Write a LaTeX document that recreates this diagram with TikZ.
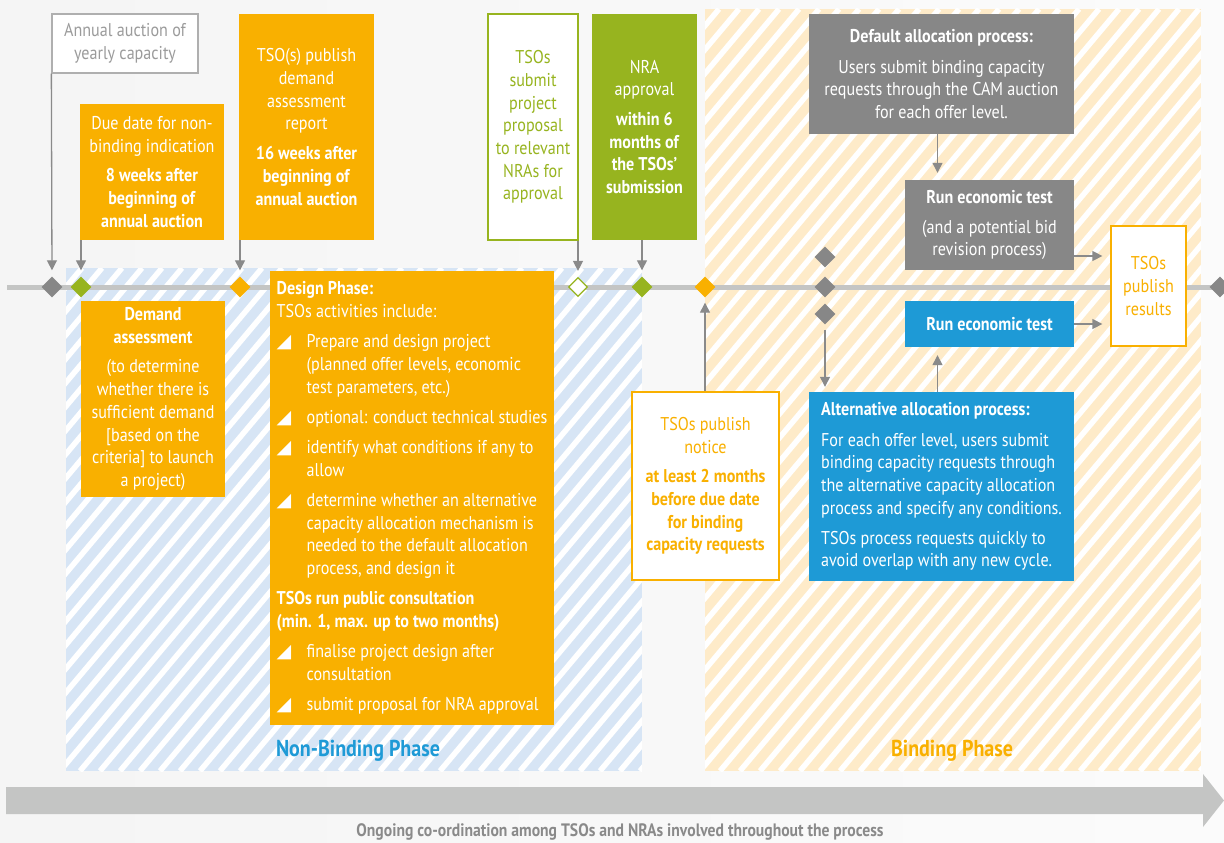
\documentclass[tikz,border=0pt]{standalone}
\usepackage{fontspec}
\setmainfont{PT Sans}[FakeStretch=0.87]
\newfontfamily\symfont{DejaVu Sans}
\usetikzlibrary{arrows.meta,shapes.geometric}
\definecolor{camorange}{HTML}{F9B000}
\definecolor{camgreen}{HTML}{97B41F}
\definecolor{camblue}{HTML}{1E9AD6}
\definecolor{camgray}{HTML}{878787}
\definecolor{tlgray}{HTML}{C4C5C4}
\definecolor{arrowgray}{HTML}{8A8A8A}
\definecolor{hatchblue}{HTML}{D7E5F5}
\definecolor{hatchorange}{HTML}{FEEBC9}
\definecolor{textgray}{HTML}{9B9B9B}
\newcommand\boxfont{\fontsize{18.5}{22.7}\selectfont}
\newcommand\tri{\makebox[30pt][l]{{\symfont\fontsize{19}{19}\selectfont ◢}}}
\newcommand\ind{\hspace*{30pt}}
\tikzset{
  every node/.style={font=\boxfont},
  tbox/.style={inner sep=0pt, align=center},
  orangebox/.style={tbox, fill=camorange, text=white},
  greenbox/.style={tbox, fill=camgreen, text=white},
  graybox/.style={tbox, fill=camgray, text=white},
  bluebox/.style={tbox, fill=camblue, text=white},
  outbox/.style={tbox, fill=white, line width=1.3pt},
  dia/.style={diamond, minimum width=21pt, minimum height=21pt, inner sep=0pt, fill=#1},
  arr/.style={draw=arrowgray, line width=1.3pt, -{Triangle[length=10pt,width=10pt]}},
  hatchline/.style={white, line width=5.5pt},
  phaselabel/.style={font=\bfseries\fontsize{23}{26}\selectfont}
}
\begin{document}
\begin{tikzpicture}[x=1pt,y=-1pt]
\useasboundingbox (0,0) rectangle (1224,843);
\shade[left color=gray!8, right color=gray!3] (0,0) rectangle (1224,843);
% fase no vinculante
\begin{scope}
\clip (66,268) rectangle (642,771);
\fill[hatchblue] (66,268) rectangle (642,771);
\foreach \x in {-360,-340,...,640} \draw[hatchline] (\x,771) -- ++(422,-503);
\end{scope}
% fase vinculante
\begin{scope}
\clip (705,9) rectangle (1201,771);
\fill[hatchorange] (705,9) rectangle (1201,771);
\foreach \x in {60,80,...,1200} \draw[hatchline] (\x,771) -- ++(639,-762);
\end{scope}
% linea de tiempo
\coordinate (tl0) at (7,287);
\coordinate (tl1) at (1224,287);
\draw[line width=5pt, tlgray] (tl0) -- (tl1);
% flecha inferior
\fill[tlgray] (6,787) -- (1203,787) -- (1203,774) -- (1224,800.5) -- (1203,827) -- (1203,814) -- (6,814) -- cycle;
\node[font=\bfseries\fontsize{18}{20}\selectfont, text=arrowgray] (ongoing) at (620,832) {Ongoing co-ordination among TSOs and NRAs involved throughout the process};
\node[phaselabel, text=camblue] (nbp) at (358,751) {Non-Binding Phase};
\node[phaselabel, text=camorange] (bp) at (952,751) {Binding Phase};
% cajas superiores
\node[outbox, draw=textgray!80, text=textgray, minimum width=146pt, minimum height=59pt] (annual) at (125,43.5) {Annual auction of\\yearly capacity};
\node[orangebox, minimum width=144pt, minimum height=136pt] (due) at (152,172) {Due date for non-\\binding indication\\[7pt]\textbf{8 weeks after}\\\textbf{beginning of}\\\textbf{annual auction}};
\node[orangebox, minimum width=135pt, minimum height=226pt] (report) at (306.5,127) {TSO(s) publish\\demand\\assessment\\report\\[7pt]\textbf{16 weeks after}\\\textbf{beginning of}\\\textbf{annual auction}};
\node[outbox, draw=camgreen, text=camgreen, minimum width=90pt, minimum height=226pt] (submit) at (533,127) {TSOs\\submit\\project\\proposal\\to relevant\\NRAs for\\approval};
\node[greenbox, minimum width=105pt, minimum height=226pt] (nra) at (644.5,127) {NRA\\approval\\[7pt]\textbf{within 6}\\\textbf{months of}\\\textbf{the TSOs’}\\\textbf{submission}};
\node[graybox, minimum width=265pt, minimum height=120pt] (default) at (941.5,74) {\textbf{Default allocation process:}\\[8pt]Users submit binding capacity\\requests through the CAM auction\\for each offer level.};
\node[graybox, minimum width=169pt, minimum height=90pt] (rungray) at (989.5,225) {\textbf{Run economic test}\\[7pt](and a potential bid\\revision process)};
\node[outbox, draw=camorange, text=camorange, minimum width=75pt, minimum height=120pt] (results) at (1148.5,286) {TSOs\\publish\\results};
\node[bluebox, minimum width=169pt, minimum height=46pt] (runblue) at (989.5,324) {\textbf{Run economic test}};
% cajas inferiores
\node[orangebox, minimum width=144pt, minimum height=196pt] (demand) at (153,399) {\textbf{Demand}\\\textbf{assessment}\\[7pt](to determine\\whether there is\\sufficient demand\\{[based on the}\\criteria] to launch\\a project)};
\node[orangebox, minimum width=284pt, minimum height=454pt, align=left] (design) at (412,498) {%
\textbf{Design Phase:}\\
TSOs activities include:\\[7.5pt]
\tri Prepare and design project\\
\ind (planned offer levels, economic\\
\ind test parameters, etc.)\\[7.5pt]
\tri optional: conduct technical studies\\[7.5pt]
\tri identify what conditions if any to\\
\ind allow\\[7.5pt]
\tri determine whether an alternative\\
\ind capacity allocation mechanism is\\
\ind needed to the default allocation\\
\ind process, and design it\\[7.5pt]
\textbf{TSOs run public consultation}\\
\textbf{(min. 1, max. up to two months)}\\[7.5pt]
\tri finalise project design after\\
\ind consultation\\[7.5pt]
\tri submit proposal for NRA approval};
\node[outbox, draw=camorange, text=camorange, minimum width=147pt, minimum height=188pt] (notice) at (705.5,486) {TSOs publish\\notice\\[7pt]\textbf{at least 2 months}\\\textbf{before due date}\\\textbf{for binding}\\\textbf{capacity requests}};
\node[bluebox, minimum width=265pt, minimum height=189pt, align=left] (alt) at (941.5,486.5) {\textbf{Alternative allocation process:}\\[8pt]For each offer level, users submit\\binding capacity requests through\\the alternative capacity allocation\\process and specify any conditions.\\[7pt]TSOs process requests quickly to\\avoid overlap with any new cycle.};
% hitos
\node[dia=camgray] (d1) at (52,287) {};
\node[dia=camgreen] (d2) at (81,287) {};
\node[dia=camorange] (d3) at (240,287) {};
\node[dia=white, draw=camgreen, line width=1.2pt, minimum width=19pt, minimum height=19pt] (d4) at (578,287) {};
\node[dia=camgreen] (d5) at (642,287) {};
\node[dia=camorange] (d6) at (705,287) {};
\node[dia=camgray] (d7) at (825,257) {};
\node[dia=camgray] (d8) at (825,287) {};
\node[dia=camgray] (d9) at (825,314) {};
\node[dia=camgray] (d10) at (1220,287) {};
% flechas
\draw[arr, shorten >=6pt] (annual.south west) -- (d1.north);
\draw[arr, shorten >=6pt] (d2 |- due.south) -- (d2.north);
\draw[arr, shorten >=6pt] (d3 |- report.south) -- (d3.north);
\draw[arr, shorten >=6pt] (d4 |- submit.south) -- (d4.north);
\draw[arr, shorten >=6pt] (d5 |- nra.south) -- (d5.north);
\draw[arr, shorten >=5pt] (d6 |- notice.north) -- (d6.south);
\draw[arr, shorten >=7pt] ([xshift=-4pt]default.south) -- ([xshift=-4pt]default.south |- rungray.north);
\draw[arr, shorten >=8pt] ([yshift=-31pt]rungray.east) -- ([yshift=-31pt]rungray.east -| results.west);
\draw[arr, shorten >=8pt] (runblue.east) -- (runblue.east -| results.west);
\draw[arr, shorten >=8pt] ([xshift=-4pt]alt.north) -- ([xshift=-4pt]alt.north |- runblue.south);
\draw[arr, shorten <=5pt, shorten >=5pt] (d9.south) -- (d9 |- alt.north);
\end{tikzpicture}
\end{document}
